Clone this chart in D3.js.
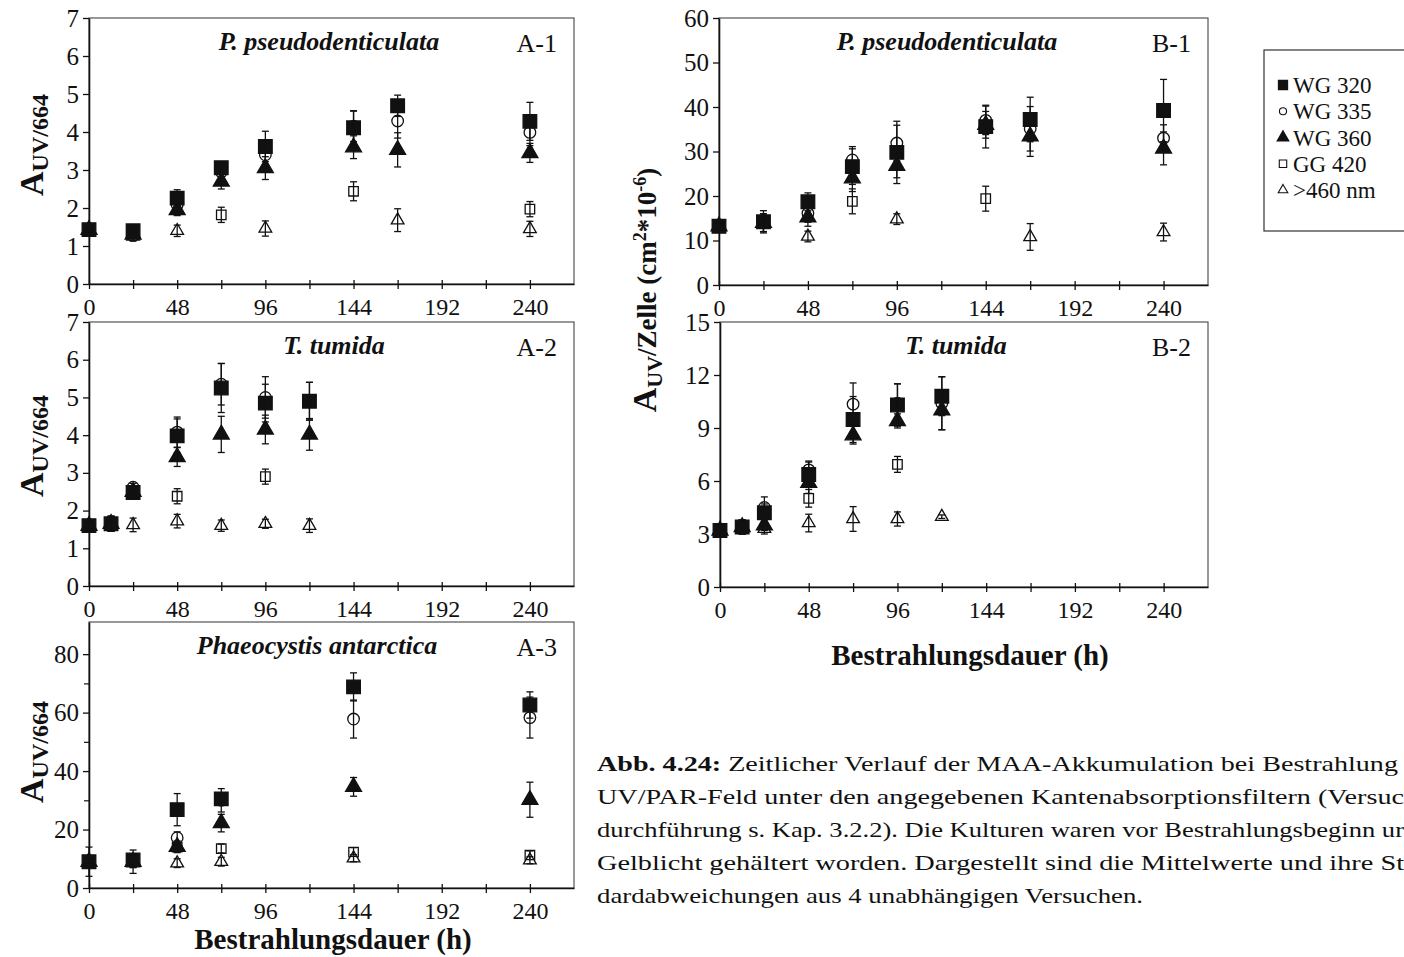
<!DOCTYPE html>
<html><head><meta charset="utf-8">
<script src="https://cdn.jsdelivr.net/npm/d3@7"></script>
<style>
body{margin:0;background:#fff;}
svg{display:block;}
text{font-family:"Liberation Serif","Times New Roman",serif;fill:#111;}
</style>
</head><body>
<svg id="chart" width="1404" height="957"></svg>
<script>
// ---------------- DATA ----------------
const seriesNames = ["WG 320", "WG 335", "WG 360", "GG 420", ">460 nm"];
const xTickLabels = [0, 48, 96, 144, 192, 240];
const xMinorTicks = [24, 72, 120, 168, 216];

// Panel A-1  P. pseudodenticulata  (A UV/664)
const hoursA1 = [0, 24, 48, 72, 96, 144, 168, 240];
const a1WG320 = [1.43, 1.40, 2.26, 3.06, 3.62, 4.11, 4.69, 4.28];
const a1WG320sd = [0.05, 0.10, 0.22, 0.12, 0.40, 0.45, 0.28, 0.50];
const a1WG335 = [1.43, 1.28, 2.08, 2.95, 3.40, 4.15, 4.29, 3.99];
const a1WG335sd = [0.05, 0.15, 0.20, 0.20, 0.30, 0.40, 0.45, 0.35];
const a1WG360 = [1.43, 1.30, 1.95, 2.70, 3.05, 3.60, 3.53, 3.45];
const a1WG360sd = [0.05, 0.10, 0.15, 0.20, 0.30, 0.30, 0.45, 0.25];
const a1GG420 = [1.43, 1.30, null, 1.82, null, 2.44, null, 1.97];
const a1GG420sd = [0.05, 0.10, null, 0.20, null, 0.25, null, 0.20];
const a1NM460 = [1.43, 1.25, 1.40, null, 1.46, null, 1.68, 1.45];
const a1NM460sd = [0.05, 0.10, 0.15, null, 0.20, null, 0.30, 0.20];
const yTicksA1 = [0, 1, 2, 3, 4, 5, 6, 7];

// Panel A-2  T. tumida
const hoursA2 = [0, 12, 24, 48, 72, 96, 120];
const a2WG320 = [1.60, 1.65, 2.48, 3.98, 5.25, 4.85, 4.90];
const a2WG320sd = [0.10, 0.20, 0.10, 0.45, 0.65, 0.50, 0.50];
const a2WG335 = [1.60, 1.65, 2.62, 4.08, 5.35, 5.00, 4.90];
const a2WG335sd = [0.10, 0.20, 0.10, 0.40, 0.55, 0.55, 0.50];
const a2WG360 = [1.60, 1.65, 2.50, 3.42, 4.02, 4.15, 4.02];
const a2WG360sd = [0.10, 0.20, 0.10, 0.25, 0.48, 0.38, 0.42];
const a2GG420 = [1.60, null, null, 2.38, null, 2.90, null];
const a2GG420sd = [0.10, null, null, 0.20, null, 0.20, null];
const a2NM460 = [1.60, null, 1.62, 1.72, 1.60, 1.65, 1.60];
const a2NM460sd = [0.10, null, 0.18, 0.18, 0.15, 0.12, 0.18];
const yTicksA2 = [0, 1, 2, 3, 4, 5, 6, 7];

// Panel A-3  Phaeocystis antarctica
const hoursA3 = [0, 24, 48, 72, 144, 240];
const a3WG320 = [9.0, 9.6, 26.8, 30.5, 68.8, 62.6];
const a3WG320sd = [1.0, 2.0, 5.5, 2.0, 4.8, 4.5];
const a3WG335 = [9.0, 9.6, 17.2, 30.0, 57.8, 58.3];
const a3WG335sd = [1.0, 2.0, 2.0, 4.0, 6.5, 7.0];
const a3WG360 = [9.0, 9.0, 14.1, 22.2, 34.6, 30.2];
const a3WG360sd = [1.0, 4.0, 2.0, 3.0, 3.2, 6.0];
const a3GG420 = [9.0, 9.0, 14.0, 13.5, 12.3, 11.2];
const a3GG420sd = [1.0, 2.0, 1.5, 1.5, 1.5, 1.5];
const a3NM460 = [9.0, 9.0, 8.5, 9.0, 10.2, 9.5];
const a3NM460sd = [5.0, 2.0, 1.5, 1.5, 1.2, 1.2];
const yTicksA3 = [0, 20, 40, 60, 80];
const yMinorA3 = [10, 30, 50, 70];

// Panel B-1  P. pseudodenticulata  (A UV / Zelle)
const hoursB1 = [0, 24, 48, 72, 96, 144, 168, 240];
const b1WG320 = [13.2, 14.2, 18.7, 26.6, 29.8, 35.6, 37.2, 39.2];
const b1WG320sd = [0.8, 2.5, 2.0, 4.0, 7.0, 4.8, 5.0, 7.0];
const b1WG335 = [13.2, 14.0, 16.1, 28.1, 31.9, 37.0, 35.1, 33.0];
const b1WG335sd = [0.8, 2.0, 2.0, 3.0, 4.0, 3.2, 5.0, 3.0];
const b1WG360 = [13.2, 14.0, 15.2, 24.0, 26.8, 36.0, 33.4, 30.7];
const b1WG360sd = [0.8, 2.0, 2.0, 3.0, 2.7, 3.0, 4.5, 3.7];
const b1GG420 = [13.2, null, null, 18.8, null, 19.4, null, null];
const b1GG420sd = [0.8, null, null, 2.8, null, 2.8, null, null];
const b1NM460 = [13.2, null, 10.9, null, 14.8, null, 10.8, 11.9];
const b1NM460sd = [0.8, null, 1.2, null, 1.2, null, 3.0, 2.0];
const yTicksB1 = [0, 10, 20, 30, 40, 50, 60];

// Panel B-2  T. tumida
const hoursB2 = [0, 12, 24, 48, 72, 96, 120];
const b2WG320 = [3.2, 3.4, 4.2, 6.37, 9.48, 10.3, 10.8];
const b2WG320sd = [0.3, 0.4, 0.5, 0.7, 1.3, 1.2, 1.1];
const b2WG335 = [3.2, 3.4, 4.5, 6.63, 10.35, 10.4, 10.4];
const b2WG335sd = [0.3, 0.4, 0.6, 0.5, 1.2, 1.1, 1.5];
const b2WG360 = [3.2, 3.4, 3.5, 5.9, 8.59, 9.4, 10.0];
const b2WG360sd = [0.3, 0.4, 0.3, 0.6, 0.5, 0.4, 1.1];
const b2GG420 = [3.2, null, null, 5.02, null, 6.94, null];
const b2GG420sd = [0.3, null, null, 0.5, null, 0.45, null];
const b2NM460 = [3.2, null, 3.3, 3.62, 3.85, 3.85, 3.98];
const b2NM460sd = [0.3, null, 0.3, 0.5, 0.7, 0.4, 0.1];
const yTicksB2 = [0, 3, 6, 9, 12, 15];

const captionLines = [
  ["Abb. 4.24:", " Zeitlicher Verlauf der MAA-Akkumulation bei Bestrahlung"],
  ["", "UV/PAR-Feld unter den angegebenen Kantenabsorptionsfiltern (Versuc"],
  ["", "durchführung s. Kap. 3.2.2). Die Kulturen waren vor Bestrahlungsbeginn ur"],
  ["", "Gelblicht gehältert worden. Dargestellt sind die Mittelwerte und ihre St"],
  ["", "dardabweichungen aus 4 unabhängigen Versuchen."]
];

// ---------------- STYLE ----------------
const FONT = "'Liberation Serif','Times New Roman',serif";
const markerStyle = {
  "WG 320": {type: d3.symbolSquare, size: 185, fill: "#111"},
  "WG 335": {type: d3.symbolCircle, size: 105, fill: "#fff"},
  "WG 360": {type: d3.symbolTriangle, size: 110, fill: "#111"},
  "GG 420": {type: d3.symbolSquare, size: 90, fill: "#fff"},
  ">460 nm": {type: d3.symbolTriangle, size: 70, fill: "#fff"}
};
const drawOrder = ["GG 420", ">460 nm", "WG 335", "WG 360", "WG 320"];

const svg = d3.select("#chart");

function mk(hours, vals, sds) {
  return hours.map((h, i) => ({h, v: vals[i], sd: sds[i]})).filter(d => d.v != null);
}

const panels = [
  {id: "A-1", title: "P. pseudodenticulata", tx: 329, xr: [89, 574], yr: [284, 18], yd: [0, 7], yt: yTicksA1, ym: [],
    s: {"WG 320": mk(hoursA1, a1WG320, a1WG320sd), "WG 335": mk(hoursA1, a1WG335, a1WG335sd), "WG 360": mk(hoursA1, a1WG360, a1WG360sd), "GG 420": mk(hoursA1, a1GG420, a1GG420sd), ">460 nm": mk(hoursA1, a1NM460, a1NM460sd)}},
  {id: "A-2", title: "T. tumida", tx: 334, xr: [89, 574], yr: [586, 322], yd: [0, 7], yt: yTicksA2, ym: [],
    s: {"WG 320": mk(hoursA2, a2WG320, a2WG320sd), "WG 335": mk(hoursA2, a2WG335, a2WG335sd), "WG 360": mk(hoursA2, a2WG360, a2WG360sd), "GG 420": mk(hoursA2, a2GG420, a2GG420sd), ">460 nm": mk(hoursA2, a2NM460, a2NM460sd)}},
  {id: "A-3", title: "Phaeocystis antarctica", tx: 317, xr: [89, 574], yr: [888, 622], yd: [0, 91], yt: yTicksA3, ym: yMinorA3,
    s: {"WG 320": mk(hoursA3, a3WG320, a3WG320sd), "WG 335": mk(hoursA3, a3WG335, a3WG335sd), "WG 360": mk(hoursA3, a3WG360, a3WG360sd), "GG 420": mk(hoursA3, a3GG420, a3GG420sd), ">460 nm": mk(hoursA3, a3NM460, a3NM460sd)}},
  {id: "B-1", title: "P. pseudodenticulata", tx: 947, xr: [719, 1208], yr: [285, 18], yd: [0, 60], yt: yTicksB1, ym: [],
    s: {"WG 320": mk(hoursB1, b1WG320, b1WG320sd), "WG 335": mk(hoursB1, b1WG335, b1WG335sd), "WG 360": mk(hoursB1, b1WG360, b1WG360sd), "GG 420": mk(hoursB1, b1GG420, b1GG420sd), ">460 nm": mk(hoursB1, b1NM460, b1NM460sd)}},
  {id: "B-2", title: "T. tumida", tx: 956, xr: [720, 1208], yr: [587, 322], yd: [0, 15], yt: yTicksB2, ym: [],
    s: {"WG 320": mk(hoursB2, b2WG320, b2WG320sd), "WG 335": mk(hoursB2, b2WG335, b2WG335sd), "WG 360": mk(hoursB2, b2WG360, b2WG360sd), "GG 420": mk(hoursB2, b2GG420, b2GG420sd), ">460 nm": mk(hoursB2, b2NM460, b2NM460sd)}}
];

function drawPanel(p) {
  const g = svg.append("g");
  const x = d3.scaleLinear().domain([0, 264]).range(p.xr);
  const y = d3.scaleLinear().domain(p.yd).range(p.yr);

  g.append("rect")
    .attr("x", p.xr[0]).attr("y", p.yr[1])
    .attr("width", p.xr[1] - p.xr[0]).attr("height", p.yr[0] - p.yr[1])
    .attr("fill", "none").attr("stroke", "#444").attr("stroke-width", 1.1);

  const xa = g.append("g").attr("transform", `translate(0,${p.yr[0]})`)
    .call(d3.axisBottom(x).tickValues(xTickLabels).tickFormat(d3.format("d"))
      .tickSizeInner(5).tickSizeOuter(0).tickPadding(9));
  xa.attr("font-family", FONT).attr("font-size", 24);
  xa.select(".domain").attr("stroke", "#111").attr("stroke-width", 1.6);
  xa.selectAll(".tick line").attr("y1", -4).attr("y2", 5).attr("stroke", "#111").attr("stroke-width", 1.3);
  xa.selectAll(".tick text").attr("fill", "#111");
  const xm = g.append("g").attr("transform", `translate(0,${p.yr[0]})`)
    .call(d3.axisBottom(x).tickValues(xMinorTicks).tickFormat("").tickSizeInner(5).tickSizeOuter(0));
  xm.select(".domain").remove();
  xm.selectAll(".tick line").attr("y1", -4).attr("y2", 5).attr("stroke", "#111").attr("stroke-width", 1.3);

  const ya = g.append("g").attr("transform", `translate(${p.xr[0]},0)`)
    .call(d3.axisLeft(y).tickValues(p.yt).tickFormat(d3.format("d"))
      .tickSizeInner(6).tickSizeOuter(0).tickPadding(4));
  ya.attr("font-family", FONT).attr("font-size", 25);
  ya.select(".domain").attr("stroke", "#111").attr("stroke-width", 1.6);
  ya.selectAll(".tick line").attr("stroke", "#111").attr("stroke-width", 1.3);
  ya.selectAll(".tick text").attr("fill", "#111");
  if (p.ym.length) {
    const ymn = g.append("g").attr("transform", `translate(${p.xr[0]},0)`)
      .call(d3.axisLeft(y).tickValues(p.ym).tickFormat("").tickSizeInner(5).tickSizeOuter(0));
    ymn.select(".domain").remove();
    ymn.selectAll(".tick line").attr("stroke", "#111").attr("stroke-width", 1.2);
  }

  g.append("text").attr("x", p.tx).attr("y", p.yr[1] + 32)
    .attr("text-anchor", "middle").attr("font-size", 26)
    .attr("font-weight", "bold").attr("font-style", "italic").text(p.title);
  g.append("text").attr("x", p.xr[1] - 17).attr("y", p.yr[1] + 34)
    .attr("text-anchor", "end").attr("font-size", 26).text(p.id);

  drawOrder.forEach(name => {
    const st = markerStyle[name];
    g.append("g").selectAll("path").data(p.s[name]).join("path")
      .attr("transform", d => `translate(${x(d.h)},${y(d.v)})`)
      .attr("d", d3.symbol().type(st.type).size(st.size))
      .attr("fill", st.fill).attr("stroke", "#111").attr("stroke-width", 1.3);
  });
  drawOrder.forEach(name => {
    const eb = g.append("g").attr("stroke", "#111").attr("stroke-width", 1.3);
    const ds = p.s[name].filter(d => d.sd);
    eb.selectAll("line.v").data(ds).join("line").attr("class", "v")
      .attr("x1", d => x(d.h)).attr("x2", d => x(d.h))
      .attr("y1", d => y(Math.max(0, d.v - d.sd))).attr("y2", d => y(d.v + d.sd));
    eb.selectAll("line.t").data(ds).join("line").attr("class", "t")
      .attr("x1", d => x(d.h) - 3.5).attr("x2", d => x(d.h) + 3.5)
      .attr("y1", d => y(d.v + d.sd)).attr("y2", d => y(d.v + d.sd));
    eb.selectAll("line.b").data(ds.filter(d => d.v - d.sd > 0)).join("line").attr("class", "b")
      .attr("x1", d => x(d.h) - 3.5).attr("x2", d => x(d.h) + 3.5)
      .attr("y1", d => y(d.v - d.sd)).attr("y2", d => y(d.v - d.sd));
  });
}
panels.forEach(drawPanel);

// y-axis titles of A panels
[["A-1", 145], ["A-2", 446], ["A-3", 752]].forEach(([id, cy]) => {
  const t = svg.append("text")
    .attr("transform", `translate(43,${cy}) rotate(-90)`)
    .attr("text-anchor", "middle").attr("font-weight", "bold");
  t.append("tspan").attr("font-size", 34).text("A");
  t.append("tspan").attr("font-size", 24).attr("dy", 5).text("UV/664");
});

// y-axis title of B panels
{
  const t = svg.append("text")
    .attr("transform", `translate(656,290) rotate(-90)`)
    .attr("text-anchor", "middle").attr("font-weight", "bold").attr("font-size", 27);
  t.append("tspan").attr("font-size", 34).text("A");
  t.append("tspan").attr("font-size", 22).attr("dy", 6).text("UV");
  t.append("tspan").attr("dy", -6).text("/Zelle (cm");
  t.append("tspan").attr("font-size", 18).attr("dy", -10).text("2");
  t.append("tspan").attr("dy", 10).text("*10");
  t.append("tspan").attr("font-size", 18).attr("dy", -10).text("-6");
  t.append("tspan").attr("dy", 10).text(")");
}

// x-axis titles
svg.append("text").attr("x", 333).attr("y", 949).attr("text-anchor", "middle")
  .attr("font-size", 29).attr("font-weight", "bold").text("Bestrahlungsdauer (h)");
svg.append("text").attr("x", 970).attr("y", 665).attr("text-anchor", "middle")
  .attr("font-size", 29).attr("font-weight", "bold").text("Bestrahlungsdauer (h)");

// legend
{
  const lg = svg.append("g");
  lg.append("rect").attr("x", 1264).attr("y", 50).attr("width", 200).attr("height", 181)
    .attr("fill", "none").attr("stroke", "#333").attr("stroke-width", 1.2);
  const legSize = {"WG 320": 85, "WG 335": 40, "WG 360": 60, "GG 420": 55, ">460 nm": 40};
  const ly = d3.scalePoint().domain(seriesNames).range([85, 190]);
  seriesNames.forEach(name => {
    const st = markerStyle[name];
    lg.append("path").attr("transform", `translate(1283,${ly(name)})`)
      .attr("d", d3.symbol().type(st.type).size(legSize[name]))
      .attr("fill", st.fill).attr("stroke", "#111").attr("stroke-width", 1.1);
    lg.append("text").attr("x", 1293).attr("y", ly(name)).attr("dy", "0.35em")
      .attr("font-size", 23).text(name);
  });
}

// caption
{
  const lens = [801, 807, 807, 807, 546];
  captionLines.forEach((ln, i) => {
    const t = svg.append("text").attr("x", 597).attr("y", 771 + i * 33)
      .attr("font-size", 22).attr("textLength", lens[i]).attr("lengthAdjust", "spacingAndGlyphs");
    if (ln[0]) t.append("tspan").attr("font-weight", "bold").text(ln[0]);
    t.append("tspan").text(ln[1]);
  });
}
</script>
</body></html>
